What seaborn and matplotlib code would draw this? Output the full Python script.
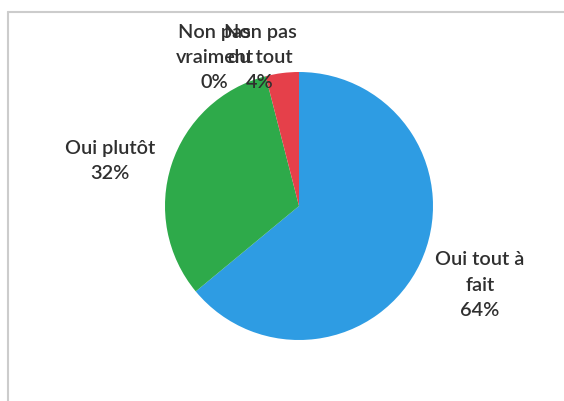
import matplotlib
matplotlib.use("Agg")
import matplotlib.pyplot as plt
import seaborn as sns
from matplotlib.lines import Line2D

categories = ["Oui tout à\nfait", "Oui plutôt", "Non pas\nvraiment", "Non pas\ndu tout"]
percentages = [64, 32, 0, 4]
colors = ["#2E9CE3", "#2EAA4A", "#8E8E8E", "#E5404A"]

sns.set_theme(style="white")
plt.rcParams["font.family"] = ["Lato", "DejaVu Sans"]

W, H = 564, 401
fig = plt.figure(figsize=(W / 100, H / 100), dpi=100)
ax = fig.add_axes([0, 0, 1, 1])

cx, cy, r = 299, 206, 134
wedges, texts = ax.pie(
    percentages,
    labels=[f"{c}\n{p}%" for c, p in zip(categories, percentages)],
    colors=colors,
    startangle=90,
    counterclock=False,
    radius=1.0,
    labeldistance=1.4,
    wedgeprops=dict(linewidth=0),
    textprops=dict(fontsize=14.3, color="#2f2f2f", ha="center", va="center",
                   linespacing=1.58, fontweight="semibold"),
)

# label layout (in pie-radius units)
label_pos = [(1.35, -0.59), (-1.41, 0.336), (-0.63, 1.11), (-0.29, 1.11)]
for t, pos in zip(texts, label_pos):
    t.set_position(pos)
    t.set_ha("center")
    t.set_va("center")

ax.set_xlim((0 - cx) / r, (W - cx) / r)
ax.set_ylim((cy - H) / r, (cy - 0) / r)
ax.set_aspect("auto")
ax.axis("off")

# chart frame
fig.add_artist(Line2D([8 / W, 8 / W], [0, 1 - 12 / H], transform=fig.transFigure,
                      color="#cccccc", linewidth=1.5))
fig.add_artist(Line2D([8 / W, 1], [1 - 12 / H, 1 - 12 / H], transform=fig.transFigure,
                      color="#cccccc", linewidth=1.5))

fig.savefig("out.png", dpi=100)
